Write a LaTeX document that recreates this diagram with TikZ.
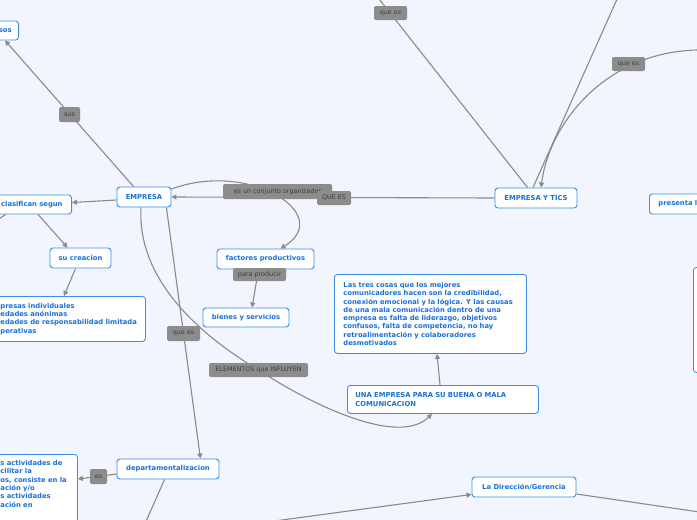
\documentclass[tikz,border=0pt]{standalone}
\usepackage{fontspec}
\setmainfont{DejaVu Sans}
\usetikzlibrary{arrows.meta,calc}
\definecolor{bgc}{HTML}{F2F5FE}
\definecolor{nodeblue}{HTML}{3A8EEA}
\definecolor{txtblue}{HTML}{1A70D8}
\definecolor{lblgray}{HTML}{8C8C8C}
\definecolor{lbltxt}{HTML}{3E3E3E}
\definecolor{linegray}{HTML}{8A8A8A}
\pgfdeclarelayer{back}
\pgfsetlayers{back,main}
\begin{document}
\begin{tikzpicture}[x=1pt,y=-1pt,
  topic/.style={draw=nodeblue, fill=white, rounded corners=3pt, line width=0.9pt,
    text=txtblue, font=\fontsize{6.8}{8.3}\selectfont\bfseries, inner sep=0pt},
  lbl/.style={fill=lblgray, rounded corners=2pt, text=lbltxt,
    font=\fontsize{6.4}{7}\selectfont, inner sep=0pt},
  conn/.style={draw=linegray, line width=1.1pt},
  arr/.style={conn, -{Triangle[length=5pt,width=5pt]}}]
\useasboundingbox (0,0) rectangle (697,520);
\begin{pgfonlayer}{back}
\fill[bgc] (0,0) rectangle (697,520);
\end{pgfonlayer}

% topic nodes
\node[topic, anchor=east, inner xsep=7pt, minimum height=19pt] (sos) at (19,30.5) {sos};
\node[topic, minimum width=54pt, minimum height=20pt] (empresa) at (144,197) {EMPRESA};
\node[topic, anchor=east, inner xsep=9pt, minimum height=19pt] (clas) at (72,204.5) {clasifican segun};
\node[topic, minimum width=61pt, minimum height=20pt] (sucre) at (80.5,258) {su creacion};
\node[topic, anchor=north west, inner xsep=8pt, text width=137pt, align=left, minimum height=45pt] (list) at (-8,296)
  {presas individuales\\edades anónimas\\edades de responsabilidad limitada\\perativas};
\node[topic, minimum width=97pt, minimum height=20pt] (fact) at (265.5,259) {factores productivos};
\node[topic, minimum width=86pt, minimum height=19pt] (bienes) at (246,317.5) {bienes y servicios};
\node[topic, anchor=north west, inner xsep=9pt, text width=174pt, align=left, minimum height=79pt] (las) at (334,274)
  {Las tres cosas que los mejores\\comunicadores hacen son la credibilidad,\\conexión emocional y la lógica. Y las causas\\de una mala comunicación dentro de una\\empresa es falta de liderazgo, objetivos\\confusos, falta de competencia, no hay\\retroalimentación y colaboradores\\desmotivados};
\node[topic, anchor=north west, inner xsep=8pt, text width=175pt, align=left, minimum height=28pt] (una) at (347,385)
  {UNA EMPRESA PARA SU BUENA O MALA\\COMUNICACION};
\node[topic, minimum width=82pt, minimum height=20pt] (tics) at (536,198) {EMPRESA Y TICS};
\node[topic, anchor=west, inner xsep=9pt, minimum width=70pt, minimum height=20pt, align=left] (pres) at (649,204) {presenta l\hspace{20pt}};
\node[topic, anchor=north west, minimum width=40pt, minimum height=105pt] (rbox) at (693,267) {};
\node[topic, minimum width=102pt, minimum height=20pt] (dept) at (168,469) {departamentalizacion};
\node[topic, anchor=north west, inner xsep=9pt, text width=68pt, align=left, inner ysep=6pt] (big) at (-9,454)
  {s actividades de\\cilitar la\\os, consiste en la\\ación y/o\\s actividades\\ación en\\[24pt]\mbox{}};
\node[topic, minimum width=104pt, minimum height=20pt] (dir) at (524,487) {La Dirección/Gerencia};

% free ends
\coordinate (clasout) at (-12,226);
\coordinate (topA) at (372,-10);
\coordinate (topB) at (622,-12);
\coordinate (rightA) at (705,50);
\coordinate (deptout) at (140,535);
\coordinate (dirin) at (230,527);
\coordinate (dirout) at (720,515);

% labels
\node[lbl, minimum width=21pt, minimum height=15pt] (sus) at (69.5,114.5) {sus};
\node[lbl, minimum width=109pt, minimum height=15pt] (conj) at (277.5,191.5) {es un conjunto organizador};
\node[lbl, minimum width=34pt, minimum height=14pt] (quees1) at (334,198) {QUE ES};
\node[lbl, minimum width=53pt, minimum height=13pt] (para) at (259.5,274.5) {para producir};
\node[lbl, minimum width=33pt, minimum height=15pt] (quees2) at (183.5,333.5) {que es};
\node[lbl, minimum width=99pt, minimum height=14pt] (elem) at (258.5,370) {ELEMENTOS que INFLUYEN};
\node[lbl, minimum width=33pt, minimum height=14pt] (quees3) at (390.5,13) {que es};
\node[lbl, minimum width=33pt, minimum height=14pt] (quees4) at (628.5,64) {que es};
\node[lbl, minimum width=17pt, minimum height=15pt] (es) at (98.5,476.5) {es};

% connectors
\begin{pgfonlayer}{back}
\draw[arr] ($(empresa.north west)+(17,0)$) -- ($(sos.south east)+(-14,0)$);
\draw[arr] ($(empresa.west)+(0,3)$) -- ($(clas.east)+(0,-2)$);
\draw[conn] ($(clas.south west)+(14,0)$) -- (clasout);
\draw[arr] ($(clas.south east)+(-34,0)$) -- ($(sucre.north west)+(18,0)$);
\draw[arr] ($(sucre.south west)+(26,0)$) -- ($(list.north east)+(-82,0)$);
\draw[arr] (tics.west) -- (empresa.east);
\draw[arr] ($(empresa.east)+(0,-8)$) .. controls (250,160) and (335,215) .. ($(fact.north)+(15,0)$);
\draw[arr] ($(fact.south)+(-7,0)$) -- ($(bienes.north)+(6,0)$);
\draw[arr] ($(empresa.south east)+(-5,0)$) -- ($(dept.north east)+(-19,0)$);
\draw[arr] ($(empresa.south)+(-3,0)$) .. controls (137,280) and (200,335) .. (elem.center)
  .. controls (320,410) and (400,445) .. ($(una.south west)+(85,0)$);
\draw[arr] ($(una.north west)+(93,0)$) -- ($(las.south west)+(103,0)$);
\draw[conn] ($(tics.north west)+(33,0)$) -- (topA);
\draw[conn] ($(tics.north)+(-3,0)$) -- (topB);
\draw[arr] (rightA) .. controls (610,48) and (550,120) .. ($(tics.north)+(5,0)$);
\draw[arr] ($(dept.west)+(0,5)$) -- ($(big.north east)+(0,25)$);
\draw[conn] ($(dept.south west)+(48,0)$) -- (deptout);
\draw[arr] (dirin) -- ($(dir.south west)+(0,-3)$);
\draw[conn] ($(dir.east)+(0,7)$) -- (dirout);
\end{pgfonlayer}
\end{tikzpicture}
\end{document}
